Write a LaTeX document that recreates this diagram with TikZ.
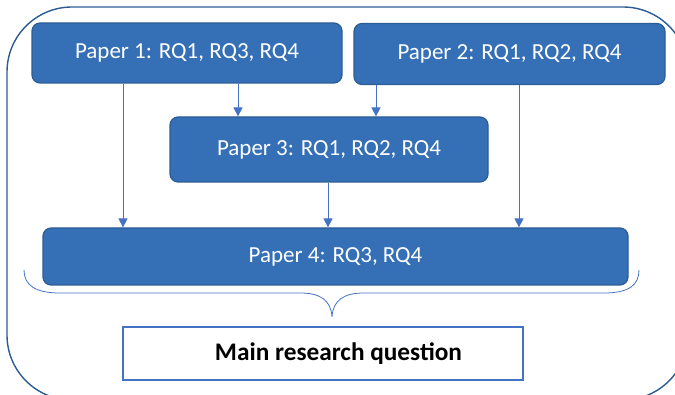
\documentclass[tikz,border=0pt]{standalone}
\usepackage{fontspec}
\setmainfont{Carlito}
\usetikzlibrary{arrows.meta}
\definecolor{paperblue}{HTML}{3570B7}
\definecolor{edgeblue}{HTML}{2C5C94}
\definecolor{lineblue}{HTML}{4472C4}
\begin{document}
\begin{tikzpicture}[x=1pt,y=-1pt,
  paper/.style={draw=edgeblue, fill=paperblue, line width=1.2pt, rounded corners=8pt,
    text=white, font=\fontsize{23}{26}\selectfont, inner sep=0pt},
  arr/.style={-{Triangle[width=9pt,length=9pt]}, draw=lineblue, line width=0.9pt}]
  \clip (0,0) rectangle (675,395);

  % vonkajsi ramec
  \draw[edgeblue, line width=1.4pt, rounded corners=65pt] (7,7) rectangle (688,400);

  % clanky
  \node[paper, minimum width=310pt, minimum height=60pt] (p1) at (187,53) {Paper 1: RQ1, RQ3, RQ4};
  \node[paper, minimum width=311pt, minimum height=61pt] (p2) at (509.5,54) {Paper 2: RQ1, RQ2, RQ4};
  \node[paper, minimum width=318pt, minimum height=65pt] (p3) at (329,149.5) {Paper 3: RQ1, RQ2, RQ4};
  \node[paper, minimum width=585pt, minimum height=57pt] (p4) at (335.5,256.5) {Paper 4: RQ3, RQ4};

  % hlavna otazka
  \node[draw=lineblue, fill=white, line width=1.4pt, minimum width=400pt, minimum height=53pt,
    font=\fontsize{25.3}{28}\selectfont\bfseries] (main) at (323,353.5) {\hspace*{31pt}Main research question};

  % sipky
  \draw[arr] ([xshift=-64pt]p1.south) -- ([xshift=-64pt]p1.south |- p4.north);
  \draw[arr] ([xshift=51pt]p1.south) -- ([xshift=51pt]p1.south |- p3.north);
  \draw[arr] ([xshift=-133.5pt]p2.south) -- ([xshift=-133.5pt]p2.south |- p3.north);
  \draw[arr] ([xshift=9.5pt]p2.south) -- ([xshift=9.5pt]p2.south |- p4.north);
  \draw[arr] ([xshift=-1pt]p3.south) -- ([xshift=-1pt]p3.south |- p4.north);

  % zatvorka
  \draw[lineblue, line width=0.8pt] (24,270) .. controls (24,285) and (35,293) .. (60,293)
    -- (300,293) .. controls (320,293) and (331,300) .. (332,317)
    .. controls (333,300) and (344,293) .. (364,293)
    -- (604,293) .. controls (629,293) and (639,285) .. (639,270);
\end{tikzpicture}
\end{document}
